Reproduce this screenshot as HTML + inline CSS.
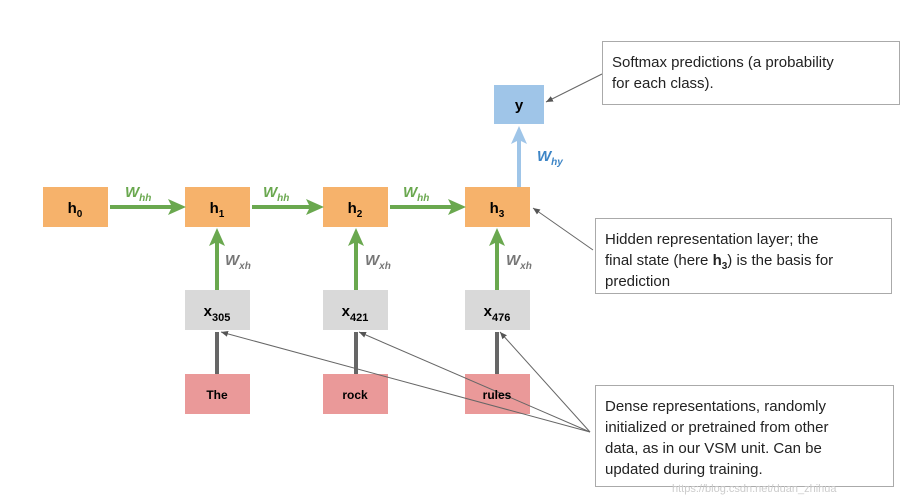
<!DOCTYPE html>
<html><head><style>body{margin:0;background:#fff}svg{display:block}</style></head><body>
<svg width="918" height="502" viewBox="0 0 918 502" font-family="Liberation Sans, Arial, sans-serif">
<defs>
<marker id="k" markerWidth="8" markerHeight="8" refX="7" refY="4" orient="auto" markerUnits="userSpaceOnUse"><path d="M0,1 L7,4 L0,7 Z" fill="#555"/></marker>
</defs>
<g fill="#f6b26b"><rect x="43" y="187" width="65" height="40"/><rect x="185" y="187" width="65" height="40"/><rect x="323" y="187" width="65" height="40"/><rect x="465" y="187" width="65" height="40"/></g>
<rect x="494" y="85" width="50" height="39" fill="#9fc5e8"/>
<g fill="#d9d9d9"><rect x="185" y="290" width="65" height="40"/><rect x="323" y="290" width="65" height="40"/><rect x="465" y="290" width="65" height="40"/></g>
<g fill="#ea9999"><rect x="185" y="374" width="65" height="40"/><rect x="323" y="374" width="65" height="40"/><rect x="465" y="374" width="65" height="40"/></g>
<g stroke="#6aa84f" stroke-width="4"><line x1="110" y1="207" x2="172" y2="207"/><line x1="252" y1="207" x2="310" y2="207"/><line x1="390" y1="207" x2="452" y2="207"/>
<line x1="217" y1="290" x2="217" y2="240"/><line x1="356" y1="290" x2="356" y2="240"/><line x1="497" y1="290" x2="497" y2="240"/></g>
<g fill="#6aa84f">
<polygon points="168,199 186,207 168,215 172,207"/><polygon points="306,199 324,207 306,215 310,207"/><polygon points="448,199 466,207 448,215 452,207"/>
<polygon points="209,246 217,228 225,246 217,242"/><polygon points="348,246 356,228 364,246 356,242"/><polygon points="489,246 497,228 505,246 497,242"/>
</g>
<line x1="519" y1="187" x2="519" y2="140" stroke="#9fc5e8" stroke-width="4"/>
<polygon points="511,144 519,126 527,144 519,140" fill="#9fc5e8"/>
<g stroke="#666" stroke-width="4"><line x1="217" y1="332" x2="217" y2="374"/><line x1="356" y1="332" x2="356" y2="374"/><line x1="497" y1="332" x2="497" y2="374"/></g>
<g stroke="#666" stroke-width="1" marker-end="url(#k)"><line x1="590" y1="432" x2="221" y2="332"/><line x1="590" y1="432" x2="359" y2="332"/><line x1="590" y1="432" x2="500" y2="332"/><line x1="593" y1="250" x2="533" y2="208"/><line x1="602" y1="74" x2="546" y2="102"/></g>
<g font-weight="bold" font-size="15" fill="#000" text-anchor="middle">
<text x="75" y="213">h<tspan font-size="10" dy="4">0</tspan></text>
<text x="217" y="213">h<tspan font-size="10" dy="4">1</tspan></text>
<text x="355" y="213">h<tspan font-size="10" dy="4">2</tspan></text>
<text x="497" y="213">h<tspan font-size="10" dy="4">3</tspan></text>
<text x="519" y="110">y</text>
<text x="217" y="316">x<tspan font-size="11" dy="5">305</tspan></text>
<text x="355" y="316">x<tspan font-size="11" dy="5">421</tspan></text>
<text x="497" y="316">x<tspan font-size="11" dy="5">476</tspan></text>
<text x="217" y="399" font-size="12">The</text><text x="355" y="399" font-size="12">rock</text><text x="497" y="399" font-size="12">rules</text>
</g>
<g font-weight="bold" font-style="italic" font-size="15" fill="#6aa84f">
<text x="125" y="197">W<tspan font-size="10" dy="4">hh</tspan></text>
<text x="263" y="197">W<tspan font-size="10" dy="4">hh</tspan></text>
<text x="403" y="197">W<tspan font-size="10" dy="4">hh</tspan></text>
</g>
<g font-weight="bold" font-style="italic" font-size="15" fill="#777">
<text x="225" y="265">W<tspan font-size="10" dy="4">xh</tspan></text>
<text x="365" y="265">W<tspan font-size="10" dy="4">xh</tspan></text>
<text x="506" y="265">W<tspan font-size="10" dy="4">xh</tspan></text>
</g>
<text x="537" y="161" font-weight="bold" font-style="italic" font-size="15" fill="#3d85c6">W<tspan font-size="10" dy="4">hy</tspan></text>
<g fill="#fff" stroke="#aaa" stroke-width="1"><rect x="602.5" y="41.5" width="297" height="63"/><rect x="595.5" y="218.5" width="296" height="75"/><rect x="595.5" y="385.5" width="298" height="101"/></g>
<g font-size="15" fill="#222">
<text x="612" y="67">Softmax predictions (a probability</text><text x="612" y="88">for each class).</text>
<text x="605" y="244">Hidden representation layer; the</text>
<text x="605" y="265">final state (here <tspan font-weight="bold">h</tspan><tspan font-weight="bold" font-size="10" dy="4">3</tspan><tspan dy="-4">) is the basis for</tspan></text>
<text x="605" y="286">prediction</text>
<text x="605" y="411">Dense representations, randomly</text>
<text x="605" y="432">initialized or pretrained from other</text>
<text x="605" y="453">data, as in our VSM unit. Can be</text>
<text x="605" y="474">updated during training.</text>
</g>
<text x="672" y="492" font-size="11" fill="#ccc">https://blog.csdn.net/duan_zhihua</text>
</svg>
</body></html>
